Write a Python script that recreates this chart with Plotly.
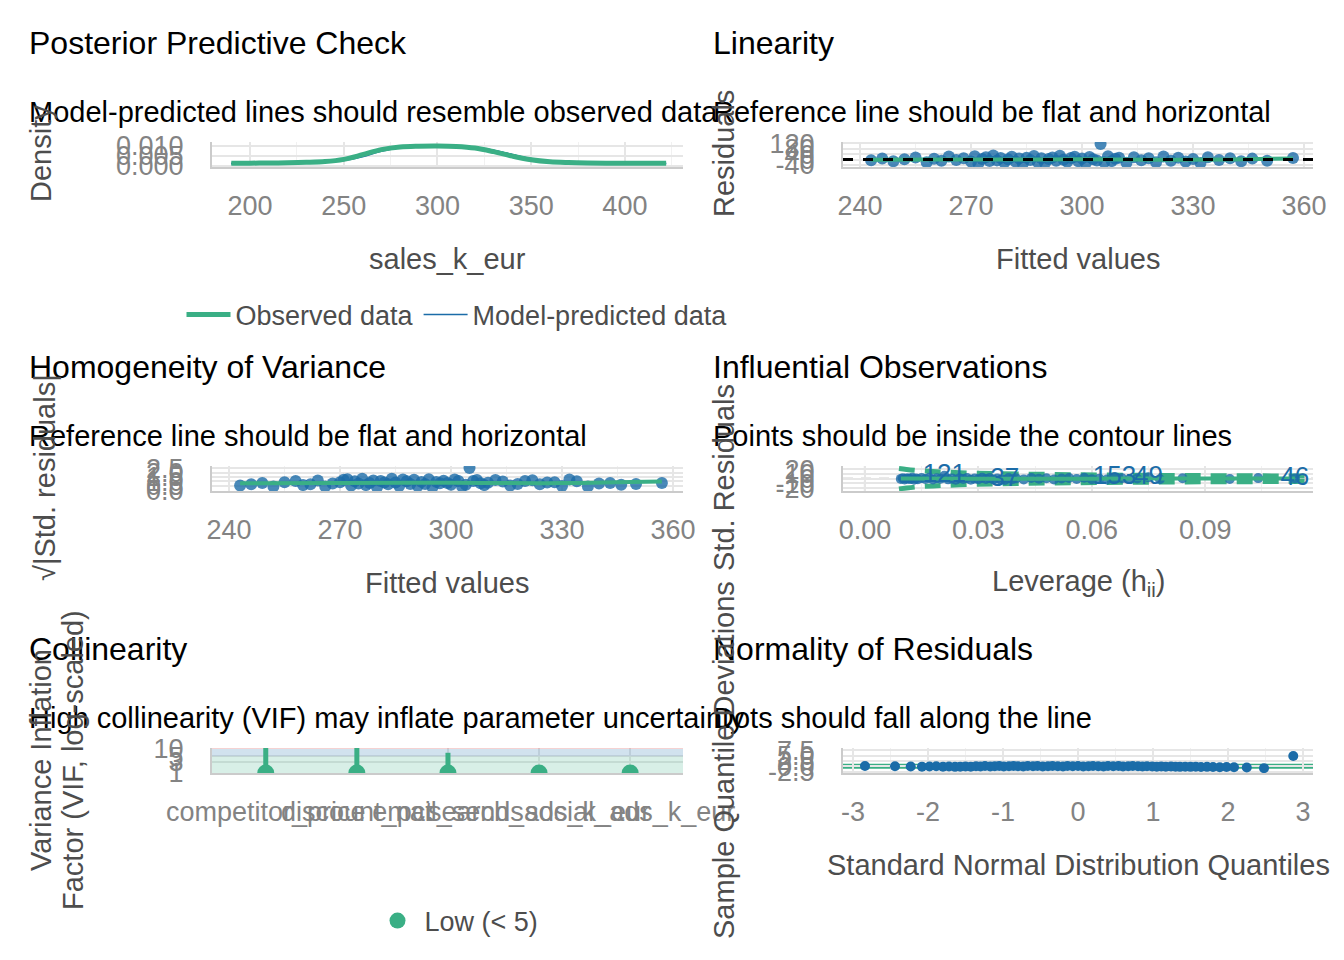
import plotly.graph_objects as go

# colours used by the model check panels
green = '#3aaf85'
blue = '#1b6ca8'
red = '#cd201f'
tick_grey = '#838383'
label_grey = '#4d4d4d'
font_family = 'Liberation Sans, Arial, sans-serif'

# posterior predictive check: density curves
dens_x = [190, 200, 210, 220, 230, 240, 250, 260, 270, 280, 290, 300,
          310, 320, 330, 340, 350, 360, 370, 380, 390, 400, 410, 422]
dens_observed = [0.0013, 0.0013, 0.0014, 0.0015, 0.0017, 0.0021, 0.0032, 0.0055,
                 0.0080, 0.0093, 0.0097, 0.0098, 0.0096, 0.0088, 0.0070, 0.0048,
                 0.0030, 0.0020, 0.0016, 0.0014, 0.0013, 0.0013, 0.0013, 0.0013]
dens_predicted = [
    [0.0010, 0.0011, 0.0012, 0.0013, 0.0015, 0.0018, 0.0026, 0.0045,
     0.0072, 0.0090, 0.0097, 0.0099, 0.0098, 0.0092, 0.0077, 0.0056,
     0.0036, 0.0023, 0.0016, 0.0013, 0.0012, 0.0011, 0.0011, 0.0010],
    [0.0011, 0.0012, 0.0012, 0.0014, 0.0016, 0.0019, 0.0028, 0.0048,
     0.0074, 0.0091, 0.0098, 0.0099, 0.0097, 0.0090, 0.0075, 0.0054,
     0.0034, 0.0022, 0.0016, 0.0014, 0.0012, 0.0012, 0.0011, 0.0011],
    [0.0012, 0.0012, 0.0013, 0.0014, 0.0016, 0.0020, 0.0030, 0.0050,
     0.0076, 0.0092, 0.0097, 0.0098, 0.0097, 0.0091, 0.0076, 0.0055,
     0.0035, 0.0023, 0.0017, 0.0014, 0.0013, 0.0012, 0.0012, 0.0012],
]

# linearity / homogeneity: fitted values and residuals
fitted = [243, 246, 249, 252, 255, 258, 260, 262, 264, 266, 268, 270, 271, 272,
          273, 274, 275, 276, 277, 278, 279, 280, 281, 282, 283, 284, 285, 286,
          287, 288, 289, 290, 291, 292, 293, 294, 295, 296, 297, 298, 299, 300,
          301, 302, 303, 304, 305, 306, 307, 308, 309, 310, 312, 314, 316, 318,
          320, 322, 324, 326, 328, 330, 332, 334, 337, 340, 343, 346, 350, 357]
residuals = [-5, 8, -12, 3, 15, -20, 6, -8, 22, -3, 10, -15, 25, -28, 5, 18, -10,
             30, -6, 12, -22, 2, 20, -14, 8, -30, 14, -4, 26, -18, 9, -25, 4, 16,
             -9, 28, -2, -16, 11, 21, -12, 7, -27, 19, 3, -7, 115, -20, 24, -11,
             6, 13, -24, 17, -5, 9, -19, 23, -8, 14, -15, 4, -26, 18, -3, 10, -12,
             7, -9, 12]
sqrt_abs_std_res = [0.53, 0.67, 0.82, 0.41, 0.91, 1.05, 0.58, 0.67, 1.10, 0.41,
                    0.75, 0.91, 1.18, 1.25, 0.53, 1.00, 0.75, 1.29, 0.58, 0.82,
                    1.10, 0.33, 1.05, 0.88, 0.67, 1.29, 0.88, 0.47, 1.20, 1.00,
                    0.71, 1.18, 0.47, 0.94, 0.71, 1.25, 0.33, 0.94, 0.78, 1.08,
                    0.82, 0.62, 1.22, 1.03, 0.41, 0.62, 2.53, 1.05, 1.15, 0.78,
                    0.58, 0.85, 1.15, 0.97, 0.53, 0.71, 1.03, 1.13, 0.67, 0.88,
                    0.91, 0.47, 1.20, 1.00, 0.41, 0.75, 0.82, 0.62, 0.71, 0.82]
lin_smooth_x = [243, 260, 280, 300, 320, 340, 357]
lin_smooth_y = [-2, 1, 0, 2, -1, 1, 8]
hom_smooth_x = [243, 270, 300, 330, 357]
hom_smooth_y = [0.78, 0.82, 0.85, 0.80, 0.98]

# influential observations
leverage = [0.0095, 0.010, 0.0105, 0.011, 0.0115, 0.012, 0.0125, 0.013, 0.0135, 0.014,
            0.015, 0.016, 0.017, 0.018, 0.019, 0.020, 0.021, 0.022, 0.023, 0.024,
            0.025, 0.026, 0.027, 0.028, 0.029, 0.030, 0.031, 0.032, 0.033, 0.034,
            0.035, 0.036, 0.037, 0.038, 0.039, 0.040, 0.042, 0.044, 0.046, 0.048,
            0.050, 0.052, 0.054, 0.056, 0.058, 0.060, 0.062, 0.064, 0.066, 0.068,
            0.070, 0.072, 0.075, 0.078, 0.084, 0.0965, 0.104, 0.1137]
std_res = [-0.3, 1.2, -1.5, 0.4, 0.5, -0.8, 1.9, -2.1, 0.6, -1.1,
           1.4, -0.5, 2.2, -1.8, 0.9, -0.2, 6.4, -1.3, 0.7, -2.3,
           1.1, -0.6, 1.7, -1.9, 0.3, -1.2, 2.0, -0.4, 1.3, -1.6,
           0.5, -2.0, -2.6, 1.5, -0.9, 0.8, -1.4, 1.8, -0.1, 1.0,
           -1.7, 0.6, 1.6, -0.7, 2.1, -1.0, 0.2, -1.5, 2.7, 1.2,
           -0.8, 0.4, 2.9, -1.1, 0.9, -0.6, 1.3, 0.5]
influential_ids = {121: 16, 37: 32, 153: 48, 49: 52, 46: 57}
cook_h = [0.009, 0.011, 0.014, 0.018, 0.025, 0.035, 0.05, 0.07, 0.09, 0.118]
cook_upper = [21.5, 19.5, 17.2, 15.2, 12.9, 10.8, 9.0, 7.5, 6.6, 5.7]
cook_lower = [-21.5, -19.5, -17.2, -15.2, -12.9, -10.8, -9.0, -7.5, -6.6, -5.7]
inf_smooth_x = [0.0095, 0.03, 0.06, 0.09, 0.1137]
inf_smooth_y = [0.3, 0.1, 0.2, 0.3, 0.4]

# collinearity
predictors = ['competitor_price', 'discount_pct', 'email_sends',
              'search_ads_k_eur', 'social_ads_k_eur']
vif = [1.0, 1.0, 1.0, 1.0, 1.0]
vif_upper = [14.0, 14.0, 6.9, 1.05, 1.05]
vif_zones = [1, 5, 10, 100]

# normality (detrended QQ)
qq_x = [-2.84, -2.44, -2.23, -2.08, -1.98, -1.89, -1.80, -1.72, -1.64, -1.57,
        -1.50, -1.43, -1.36, -1.30, -1.24, -1.17, -1.11, -1.05, -0.99, -0.92,
        -0.86, -0.80, -0.73, -0.67, -0.60, -0.54, -0.47, -0.40, -0.34, -0.27,
        -0.20, -0.14, -0.07, 0.00, 0.07, 0.14, 0.20, 0.27, 0.34, 0.40,
        0.47, 0.54, 0.60, 0.67, 0.73, 0.80, 0.86, 0.92, 0.99, 1.05,
        1.11, 1.17, 1.24, 1.30, 1.36, 1.43, 1.50, 1.57, 1.64, 1.72,
        1.80, 1.89, 1.98, 2.08, 2.25, 2.48, 2.87]
qq_dev = [0.1, 0.0, -0.1, -0.2, -0.1, 0.0, -0.2, -0.1, -0.3, -0.2,
          -0.1, -0.2, 0.0, -0.1, 0.1, -0.1, 0.0, 0.1, -0.1, 0.0,
          0.1, 0.0, -0.1, 0.1, 0.0, 0.1, -0.1, 0.0, 0.1, 0.0,
          -0.1, 0.1, 0.0, 0.1, -0.1, 0.0, 0.1, 0.0, -0.1, 0.1,
          0.0, 0.1, -0.1, 0.0, 0.1, 0.0, -0.1, 0.0, -0.1, -0.2,
          -0.1, -0.2, -0.1, -0.2, -0.3, -0.2, -0.3, -0.2, -0.4, -0.3,
          -0.4, -0.5, -0.4, -0.5, -0.6, -0.9, 4.8]

W, H = 1344, 960
OFF = 8  # page body margin in the browser


def fx(px):
    return (px - OFF) / W


def fy(py):
    return 1 - (py - OFF) / H


left_dom = [fx(212), fx(683)]
right_dom = [fx(843), fx(1313)]
row_dom = [[fy(167), fy(142)], [fy(491), fy(466)], [fy(773), fy(748)]]


def xax(dom, anchor, rng, **kw):
    d = dict(domain=dom, anchor=anchor, range=rng, showline=True, linecolor='#cbcbcb',
             linewidth=2, showgrid=True, gridcolor='#e6e6e6', gridwidth=1.5, zeroline=False,
             ticks='', ticklabelstandoff=14, tickangle=0, automargin=False,
             tickfont=dict(size=27, color=tick_grey))
    d.update(kw)
    return d


def yax(dom, anchor, rng, **kw):
    d = dict(domain=dom, anchor=anchor, range=rng, showline=True, linecolor='#cbcbcb',
             linewidth=2, showgrid=True, gridcolor='#e6e6e6', gridwidth=1.5, zeroline=False,
             ticks='', ticklabelstandoff=21, automargin=False,
             tickfont=dict(size=27, color=tick_grey))
    d.update(kw)
    return d


minor_grid = dict(showgrid=True, gridcolor='#f1f1f1', gridwidth=1)

fig = go.Figure()

# panel 1: posterior predictive check
for i, yy in enumerate(dens_predicted):
    fig.add_trace(go.Scatter(x=dens_x, y=yy, mode='lines', line=dict(color=blue, width=1.5, shape='spline'),
                             name='Model-predicted data', legendgroup='pred', showlegend=(i == 0),
                             legendrank=2, xaxis='x', yaxis='y'))
fig.add_trace(go.Scatter(x=dens_x, y=dens_observed, mode='lines', line=dict(color=green, width=5, shape='spline'),
                         name='Observed data', legendrank=1, xaxis='x', yaxis='y'))

# panel 2: linearity
fig.add_trace(go.Scatter(x=fitted, y=residuals, mode='markers', showlegend=False,
                         marker=dict(color=blue, size=12, opacity=0.8), xaxis='x2', yaxis='y2'))
fig.add_trace(go.Scatter(x=lin_smooth_x, y=lin_smooth_y, mode='lines', showlegend=False,
                         line=dict(color=green, width=4, shape='spline'), xaxis='x2', yaxis='y2'))

# panel 3: homogeneity of variance
fig.add_trace(go.Scatter(x=fitted, y=sqrt_abs_std_res, mode='markers', showlegend=False,
                         marker=dict(color=blue, size=12, opacity=0.8), xaxis='x3', yaxis='y3'))
fig.add_trace(go.Scatter(x=hom_smooth_x, y=hom_smooth_y, mode='lines', showlegend=False,
                         line=dict(color=green, width=4, shape='spline'), xaxis='x3', yaxis='y3'))

# panel 4: influential observations
for cy in (cook_upper, cook_lower):
    fig.add_trace(go.Scatter(x=cook_h, y=cy, mode='lines', showlegend=False,
                             line=dict(color=green, width=5, dash='16px,10px', shape='spline'),
                             xaxis='x4', yaxis='y4'))
fig.add_trace(go.Scatter(x=leverage, y=std_res, mode='markers', showlegend=False,
                         marker=dict(color=blue, size=10, opacity=0.8), xaxis='x4', yaxis='y4'))
fig.add_trace(go.Scatter(x=inf_smooth_x, y=inf_smooth_y, mode='lines', showlegend=False,
                         line=dict(color=green, width=4, shape='spline'), xaxis='x4', yaxis='y4'))
fig.add_trace(go.Scatter(x=[leverage[i] for i in influential_ids.values()],
                         y=[std_res[i] for i in influential_ids.values()],
                         text=[str(k) for k in influential_ids], mode='text', showlegend=False,
                         textfont=dict(color=blue, size=26, family=font_family), cliponaxis=False,
                         xaxis='x4', yaxis='y4'))

# panel 5: collinearity
x5_range = [-0.59, 4.58]
zone_cols = ['rgba(58,175,133,0.2)', 'rgba(27,108,168,0.2)', 'rgba(205,32,31,0.2)']
for lo, hi, col in zip(vif_zones[:-1], vif_zones[1:], zone_cols):
    fig.add_trace(go.Scatter(x=[x5_range[0], x5_range[1], x5_range[1], x5_range[0]],
                             y=[lo, lo, hi, hi], fill='toself', fillcolor=col, mode='lines',
                             line=dict(width=0), showlegend=False, hoverinfo='skip',
                             xaxis='x5', yaxis='y5'))
fig.add_trace(go.Scatter(x=list(range(len(predictors))), y=vif, mode='markers', name='Low (< 5)',
                         marker=dict(color=green, size=17),
                         error_y=dict(type='data', symmetric=False,
                                      array=[u - v for u, v in zip(vif_upper, vif)],
                                      arrayminus=[0] * len(vif), color=green, thickness=5, width=0),
                         legend='legend2', xaxis='x5', yaxis='y5'))

# panel 6: normality of residuals
fig.add_trace(go.Scatter(x=qq_x, y=qq_dev, mode='markers', showlegend=False,
                         marker=dict(color=blue, size=10), xaxis='x6', yaxis='y6'))

shapes = [
    dict(type='line', xref='x2 domain', yref='y2', x0=0, x1=1, y0=0, y1=0,
         line=dict(color='black', width=3, dash='10px,10px')),
    dict(type='line', xref='x4 domain', yref='y4', x0=0, x1=1, y0=0, y1=0, layer='below',
         line=dict(color='#a8a8a8', width=2, dash='10px,8px')),
    dict(type='line', xref='x4', yref='y4 domain', x0=0, x1=0, y0=0, y1=1, layer='below',
         line=dict(color='#a8a8a8', width=2, dash='10px,8px')),
    dict(type='line', xref='x6 domain', yref='y6', x0=0, x1=1, y0=0, y1=0, layer='below',
         line=dict(color=green, width=5)),
]

annotations = []


def txt(text, x, y, size, color='black', xanchor='left', angle=0):
    # annotations carry a few px of padding, pull left-anchored text back by that much
    if xanchor == 'left':
        x -= 3
    annotations.append(dict(text=text, x=fx(x), y=fy(y), xref='paper', yref='paper',
                            xanchor=xanchor, yanchor='middle', showarrow=False, textangle=angle,
                            font=dict(size=size, color=color, family=font_family)))


# titles and subtitles
txt('Posterior Predictive Check', 30, 43, 32)
txt('Model-predicted lines should resemble observed data', 30, 112, 29)
txt('Linearity', 714, 43, 32)
txt('Reference line should be flat and horizontal', 714, 112, 29)
txt('Homogeneity of Variance', 30, 367, 32)
txt('Reference line should be flat and horizontal', 30, 436, 29)
txt('Influential Observations', 714, 367, 32)
txt('Points should be inside the contour lines', 714, 436, 29)
txt('Collinearity', 30, 649, 32)
txt('High collinearity (VIF) may inflate parameter uncertainty', 30, 718, 29)
txt('Normality of Residuals', 714, 649, 32)
txt('Dots should fall along the line', 714, 718, 29)

# x axis titles
txt('sales_k_eur', 447, 259, 29, label_grey, 'center')
txt('Fitted values', 1078, 259, 29, label_grey, 'center')
txt('Fitted values', 447, 583, 29, label_grey, 'center')
txt('Leverage (h<sub>ii</sub>)', 1078, 583, 29, label_grey, 'center')
txt('Standard Normal Distribution Quantiles', 1078, 865, 29, label_grey, 'center')

# y axis titles
txt('Density', 41, 154, 29, label_grey, 'center', -90)
txt('Residuals', 724, 154, 29, label_grey, 'center', -90)
txt('√|Std. residuals|', 45, 478, 29, label_grey, 'center', -90)
txt('Std. Residuals', 724, 478, 29, label_grey, 'center', -90)
txt('Variance Inflation', 41, 760, 29, label_grey, 'center', -90)
txt('Factor (VIF, log-scaled)', 73, 760, 29, label_grey, 'center', -90)
txt('Sample Quantile Deviations', 724, 760, 29, label_grey, 'center', -90)

fig.update_layout(
    width=W, height=H, autosize=False,
    margin=dict(l=0, r=0, t=0, b=0, autoexpand=False),
    paper_bgcolor='white', plot_bgcolor='white',
    font=dict(family=font_family),
    shapes=shapes, annotations=annotations,
    legend=dict(orientation='h', x=fx(457), xanchor='center', y=fy(315), yanchor='middle',
                itemwidth=44, font=dict(size=27, color=label_grey), bgcolor='rgba(0,0,0,0)'),
    legend2=dict(orientation='h', x=fx(457), xanchor='center', y=fy(921), yanchor='middle',
                 itemwidth=44, font=dict(size=27, color=label_grey), bgcolor='rgba(0,0,0,0)'),
    xaxis=xax(left_dom, 'y', [179.7, 431], tickvals=[200, 250, 300, 350, 400],
              minor=dict(dtick=25, **minor_grid)),
    yaxis=yax(row_dom[0], 'x', [-0.0006, 0.0118], tickvals=[0, 0.005, 0.010],
              ticktext=['0.000', '0.005', '0.010']),
    xaxis2=xax(right_dom, 'y2', [235.4, 362.4], tickvals=[240, 270, 300, 330, 360],
               minor=dict(dtick=15, **minor_grid)),
    yaxis2=yax(row_dom[0], 'x2', [-55, 130], tickvals=[-40, 0, 40, 80, 120],
               ticktext=['-40', '0', '40', '80', '120']),
    xaxis3=xax(left_dom, 'y3', [235.4, 362.7], tickvals=[240, 270, 300, 330, 360],
               minor=dict(dtick=15, **minor_grid)),
    yaxis3=yax(row_dom[1], 'x3', [-0.1, 2.75], tickvals=[0, 0.5, 1.0, 1.5, 2.0, 2.5],
               tickformat='.1f'),
    xaxis4=xax(right_dom, 'y4', [-0.0058, 0.1185], tickvals=[0, 0.03, 0.06, 0.09],
               ticktext=['0.00', '0.03', '0.06', '0.09'], minor=dict(dtick=0.015, **minor_grid)),
    yaxis4=yax(row_dom[1], 'x4', [-26, 27], tickvals=[-20, -10, 0, 10, 20],
               ticktext=['-20', '-10', '0', '10', '20']),
    xaxis5=xax(left_dom, 'y5', x5_range, tickvals=list(range(len(predictors))), ticktext=predictors),
    yaxis5=yax(row_dom[2], 'x5', [0, 1.037], type='log', tickvals=[1, 3, 5, 10]),
    xaxis6=xax(right_dom, 'y6', [-3.133, 3.133], tickvals=[-3, -2, -1, 0, 1, 2, 3],
               ticktext=['-3', '-2', '-1', '0', '1', '2', '3'], minor=dict(dtick=0.5, **minor_grid)),
    yaxis6=yax(row_dom[2], 'x6', [-3.2, 8.6], tickvals=[-2.5, 0, 2.5, 5, 7.5],
               ticktext=['-2.5', '0.0', '2.5', '5.0', '7.5']),
)

fig.write_html("out.html")
